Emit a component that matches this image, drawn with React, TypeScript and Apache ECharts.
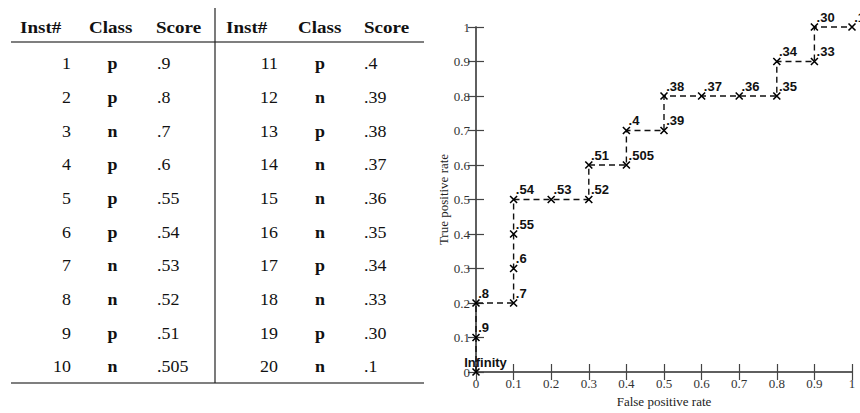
import React, { useEffect, useRef } from "react";
import * as echarts from "echarts";

// ---- Table data ----
const instIds = ["1","2","3","4","5","6","7","8","9","10","11","12","13","14","15","16","17","18","19","20"];
const classes = ["p","p","n","p","p","p","n","n","p","n","p","n","p","n","n","n","p","n","p","n"];
const scores = [".9",".8",".7",".6",".55",".54",".53",".52",".51",".505",".4",".39",".38",".37",".36",".35",".34",".33",".30",".1"];
const headers = ["Inst#", "Class", "Score"];

// ---- ROC curve data ----
const fpr = [0, 0, 0, 0.1, 0.1, 0.1, 0.1, 0.2, 0.3, 0.3, 0.4, 0.4, 0.5, 0.5, 0.6, 0.7, 0.8, 0.8, 0.9, 0.9, 1.0];
const tpr = [0, 0.1, 0.2, 0.2, 0.3, 0.4, 0.5, 0.5, 0.5, 0.6, 0.6, 0.7, 0.7, 0.8, 0.8, 0.8, 0.8, 0.9, 0.9, 1.0, 1.0];
const pointLabels = ["Infinity", ".9", ".8", ".7", ".6", ".55", ".54", ".53", ".52", ".51", ".505", ".4", ".39", ".38", ".37", ".36", ".35", ".34", ".33", ".30", ".1"];
const xAxisTitle = "False positive rate";
const yAxisTitle = "True positive rate";

const SERIF = "'Liberation Serif', 'Times New Roman', serif";
const SANS = "'Liberation Sans', Arial, sans-serif";

function buildTable(): any[] {
  const els: any[] = [];
  const lineColor = "#555";
  const textColor = "#111";
  // rules
  els.push({ type: "line", shape: { x1: 11, y1: 42, x2: 424, y2: 42 }, style: { stroke: lineColor, lineWidth: 1.5 } });
  els.push({ type: "line", shape: { x1: 11, y1: 383, x2: 424, y2: 383 }, style: { stroke: lineColor, lineWidth: 1.5 } });
  els.push({ type: "line", shape: { x1: 215, y1: 8, x2: 215, y2: 383 }, style: { stroke: "#222", lineWidth: 1.2 } });

  const halves = [
    { hx: [20, 89, 156], instX: 71, classX: 112.5, scoreX: 157 },
    { hx: [226, 298, 364], instX: 278, classX: 320, scoreX: 364 },
  ];
  const sx = 1.12;
  halves.forEach((h, hi) => {
    headers.forEach((t, i) => {
      els.push({
        type: "text", x: h.hx[i], y: 27, scaleX: sx,
        style: { text: t, fill: textColor, font: `bold 17px ${SERIF}`, align: "left", verticalAlign: "middle" },
      });
    });
    for (let r = 0; r < 10; r++) {
      const idx = hi * 10 + r;
      const y = 64 + r * 33.7;
      els.push({ type: "text", x: h.instX, y, scaleX: sx, style: { text: instIds[idx], fill: textColor, font: `16px ${SERIF}`, align: "right", verticalAlign: "middle" } });
      els.push({ type: "text", x: h.classX, y, scaleX: sx, style: { text: classes[idx], fill: textColor, font: `bold 16px ${SERIF}`, align: "center", verticalAlign: "middle" } });
      els.push({ type: "text", x: h.scoreX, y, scaleX: sx, style: { text: scores[idx], fill: textColor, font: `16px ${SERIF}`, align: "left", verticalAlign: "middle" } });
    }
  });
  return els;
}

export default function App() {
  const ref = useRef<HTMLDivElement>(null);
  useEffect(() => {
    if (!ref.current) return;
    const chart = echarts.init(ref.current, null, { renderer: "svg" });
    const fmt = (v: number) => String(Math.round(v * 10) / 10);
    const axisLine = { show: true, lineStyle: { color: "#555", width: 1.5 } };
    const tick = { show: true, inside: true, length: 8, lineStyle: { color: "#444", width: 1.2 } };
    const labelStyle = { color: "#333", fontFamily: SERIF, fontSize: 13 };
    const data = fpr.map((x, i) => {
      const item: any = { value: [x, tpr[i]], name: pointLabels[i] };
      if (i === 0) item.label = { position: [-7.5, 1] };
      return item;
    });
    chart.setOption({
      animation: false,
      backgroundColor: "#fff",
      graphic: { elements: buildTable() },
      grid: { left: 476, right: 8, top: 27, bottom: 41, containLabel: false },
      xAxis: [
        {
          type: "value", min: 0, max: 1, interval: 0.1, position: "bottom",
          axisLine, axisTick: tick, splitLine: { show: false },
          axisLabel: { ...labelStyle, margin: 5, formatter: fmt },
          name: xAxisTitle, nameLocation: "middle", nameGap: 23,
          nameTextStyle: { color: "#222", fontFamily: SERIF, fontSize: 13 },
        },
        {
          type: "value", min: 0, max: 1, interval: 0.1, position: "top",
          axisLine, axisTick: tick, splitLine: { show: false }, axisLabel: { show: false },
        },
      ],
      yAxis: [
        {
          type: "value", min: 0, max: 1, interval: 0.1, position: "left",
          axisLine, axisTick: tick, splitLine: { show: false },
          axisLabel: { ...labelStyle, margin: 6, formatter: fmt },
          name: yAxisTitle, nameLocation: "middle", nameGap: 26, nameRotate: 90,
          nameTextStyle: { color: "#222", fontFamily: SERIF, fontSize: 13 },
        },
        {
          type: "value", min: 0, max: 1, interval: 0.1, position: "right",
          axisLine, axisTick: tick, splitLine: { show: false }, axisLabel: { show: false },
        },
      ],
      series: [
        {
          type: "line",
          xAxisIndex: 0, yAxisIndex: 0,
          data,
          clip: false,
          symbol: "path://M0,0L10,10M10,0L0,10",
          symbolSize: 7,
          showAllSymbol: true,
          itemStyle: { color: "#000", borderColor: "#000", borderWidth: 1.6 },
          lineStyle: { color: "#111", width: 1.4, type: [6, 4] },
          label: {
            show: true,
            position: [6.5, 1],
            align: "left",
            verticalAlign: "bottom",
            formatter: (p: any) => p.name,
            color: "#111",
            fontFamily: SANS,
            fontWeight: "bold",
            fontSize: 13,
          },
          emphasis: { disabled: true },
        },
      ],
    });
    return () => chart.dispose();
  }, []);
  return <div ref={ref} style={{ position: "absolute", left: 0, top: 0, width: 860, height: 413 }} />;
}
